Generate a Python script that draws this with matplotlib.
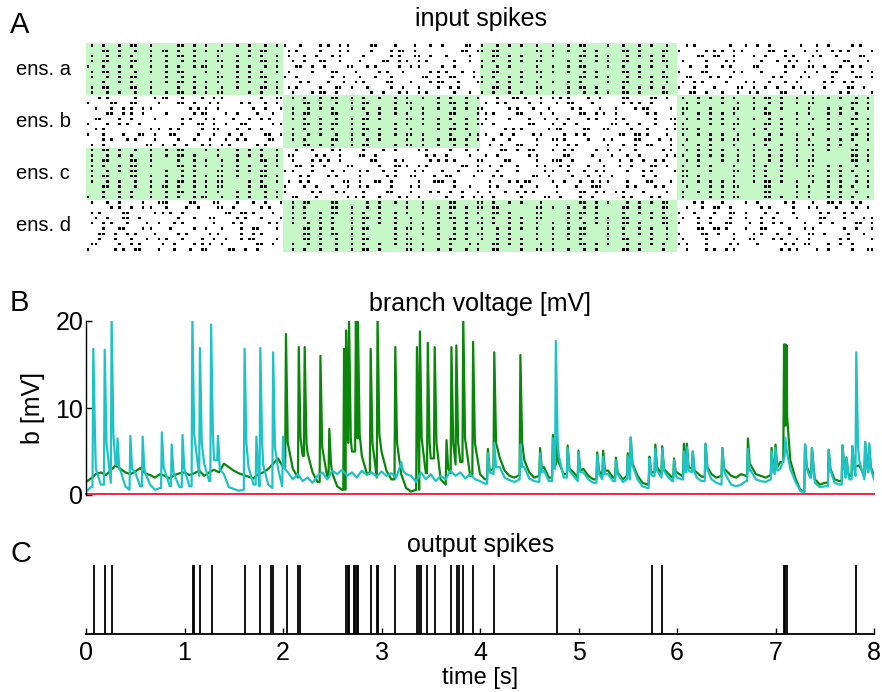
import numpy as np
import matplotlib
matplotlib.use("Agg")
import matplotlib.pyplot as plt
from matplotlib.patches import Rectangle
from matplotlib.collections import PolyCollection

plt.rcParams['font.family'] = ['Liberation Sans', 'DejaVu Sans']

# ---------------- panel A: input spikes ----------------
# one string per neuron, four 2-s blocks split by '|', each block = 50 bins of 40 ms, 'x' = spike
ens_names = ['ens. a', 'ens. b', 'ens. c', 'ens. d']
ens_active = ['1010', '0101', '1001', '0110']   # green blocks (pattern presented)

raster_a = [
    ".x..x...x. .xx...x... ...xx..x.. x...x...x. .x...x..x. | x...x....x .x..x.x... ..xx....x. ...x...x.. x.....xx.. | x...x..x.. x...x...x. ..x..xx... ..x...x... x..x...x.. | ..x.x..... ...x...x.. x..x...... .x...x..x. ....x.x...",
    "....xx..x. ..x...x..x x..x...x.. x..xx..... .x..xx.... | .x.x.....x ....x.x... ..x....x.x x..x...... .....xx..x | x..xx..... ....xx..x. ..x...x..x ......xx.. x.....xx.. | x......x.x .x..x.x... ...xx..x.. ..x..x...x .x.x.....x",
    ".x...x..x. .x....x... x..xx..x.. ...x....x. .x..x...x. | .x...x..x. ..x.x..... x......x.x ...xx..x.. .x.....x.. | ...xx..x.. x....x..x. .....xx..x ..x....x.. x..x..x... | .....xx..x x...x....x ..x....x.x ....x.x... x.....xx..",
    ".x..xx.... .xx...x... x...x..x.. x..xx...x. ....xx..x. | ..x..x...x x...x....x .....xx..x .x..x.x... ...x...x.. | x..x...x.. x...xx.... ..x..x...x ..x...xx.. ...x..xx.. | .x.....x.. ..x.x..... .x...x..x. x..x...... ..xx....x.",
    "x...x...x. .x....x... x..x...x.x x...x...x. .x...x..x. | ...xx..x.. x.....xx.. .x.x.....x ..x.x..... x..x...... | x...x..x.. ....x...x. ..x..xx... ..x...x... x..x...x.. | ...x...x.. .x.x.....x x......x.x ...xx..x.. .x..x.x...",
    ".x..xx..x. ..x...x... x..xx..... x..x....x. .x..x...x. | .x.....x.. ..xx....x. ....x.x... x......x.x .x...x..x. | ...xx..... x...xx..x. ..x...x..x ......xx.. x.....x... | x.....xx.. ....x.x... .x.....x.. ..x..x...x x...x....x",
    ".x...x..x. .xx....... x...x..x.. ...xx...x. .x..xx.... | x..x...... ..x..x...x ...x...x.. .....xx..x ..xx....x. | x..x...x.. x....x.... .....xx..x ..x....x.. x..x..xx.. | ..xx....x. x..x...... ....x.x... .x.x.....x .....xx..x",
    "....x...x. .x....x... x..xx..x.. x..x....x. .x...x..x. | ....x.x... .x...x..x. x.....xx.. ..x....x.x x...x....x | x...x..x.. x...x...x. ..x..x.... ..x...xx.. ...x...x.. | .x..x.x... ..x....x.x ...x...x.. x......x.x ..x.x.....",
    ".x..xx.... .xx...x... ...x...x.. x...x...x. ....xx..x. | .x.x.....x ...xx..x.. .x.....x.. x...x....x ..x.x..... | ...xx..x.. ....xx.... ..x..xx..x ......x... x..x..x... | x...x....x .....xx..x ..x..x...x .x.....x.. ...xx..x..",
    ".x...x..x. ..x...x... x..xx..x.. x..xx..... .x..x...x. | ..x....x.x x..x...... ..x..x...x .x..x.x... ...x...x.. | x..x...x.. x...x...x. ..x...x..x ..x...xx.. x.....xx.. | ...xx..x.. .x...x..x. x.....xx.. ..x.x..... .x.x.....x",
]
raster_b = [
    "...x.x.... ..x....x.x x...x....x ..x.x..... ....x...xx | ..x..x...x ..xx...x.. x...x...x. .x...x...x ..x...x..x | ....x...xx .x...x..x. x.x....x.. x.....xx.. ...xx..x.. | .x...x..x. .x..x....x ..xx..x... x...x...x. .x...x..x.",
    "x.....xx.. .xx.....x. ...xx..x.. .x.x.....x .x...x..x. | .....xx..x ...x...x.. xx......x. .xx......x ..xx..x... | .x..x.x... ..x..x...x ..xx....x. ......x.x. x..x...... | ..x..x.... .x...x...x ...x..x... x..xx..... ....xx..x.",
    "..x...x..x .x..x.x... ......x.x. x..x...... ..x..x...x | ..x...x..x ..x....x.. x...x...x. ..x..x...x ...x..x..x | x......x.x ...x...x.. ...x.x.... x...x....x .xx.....x. | .xx.....x. ....xx...x ..x...x... ...x....x. .x..x...x.",
    ".....xx..x .x..x..... x......x.x x....x..x. ...x...x.. | ..x..xx... ..xx...... .x..x...x. .x...x.... ..xx.....x | .x.x.....x x....x..x. .....xx..x .x..x..... ..x.x..... | .x...x..x. .x..x..... ..xx...... x..x....x. .x...x....",
    "..xx....x. .x.....x.. ....x.x... x.x....x.. .x..x.x... | ..x..x...x ...x...x.. xx..x..... .xx..x...x ..x...x..x | .x.....x.. ..x...x..x ..x....x.x ....x.x... ....x...xx | ..x..x..x. .x...x...x ...x..x... x...x...x. ....xx..x.",
    "x....x..x. x..x...... ....x...xx ..x..x...x x......x.x | .....xx..x ..xx...x.. x.......x. .x...x...x ...x..x..x | x..x...... ..xx....x. .x..x..... ...xx..x.. x...x....x | .x......x. .x..xx.... ..xx..x... x..x....x. .x..x...x.",
    "..x.x..... ......x.x. .x.x.....x ..xx....x. .x..x..... | ..x..x...x ..x....x.. xx..x...x. ..x......x ..xx..x... | ......x.x. x......x.x x.....xx.. .xx.....x. ..x....x.x | .xx..x.... ....x....x ..x...x... ...xx...x. .x...x..x.",
    "x...x....x ...xx..x.. .xx.....x. ..x...x..x .....xx..x | ..x...x..x ...x...x.. x...x...x. .xx..x.... ..x....x.x | .x...x..x. ...x.x.... .x..x.x... .....xx..x x.x....x.. | .x...x..x. .x...x...x ...x..x... x...x..... ....xx..x.",
    "....x.x... x.x....x.. ...x...x.. .x...x..x. x.....xx.. | ..x..x.... ..xx...x.. .x..x..... .x...x...x ..xx..x..x | ...x...x.. ....x...xx .x.....x.. .x.x.....x x....x..x. | ..x.....x. .x..xx.... ..xx...... x..x....x. .x..x...x.",
    ".x..x..... .....xx..x ..x..x...x .x..x.x... ...x.x.... | .....xx..x ..x....x.. xx......x. .xx..x...x ...x..x... | ..x..x...x x...x....x ..x.x..... ..x...x..x ..xx....x. | .x...x..x. ....x....x ..x...x... x..xx...x. .x...x....",
]
raster_c = [
    ".x..xx..x. ..x...x... x..xx..... x..x....x. .x..x...x. | ...x...x.. ..x.x..... x....x..x. ....x.x... ..x...x..x | .....xx..x ..xx....x. .x.x.....x ..x..x...x ......x.x. | ..x..x..x. .x...x...x ...x..x... x...x...x. ....xx..x.",
    ".x...x..x. .x....x... x..xx..x.. ...x....x. .x..x...x. | .xx.....x. x...x....x x..x...... ......x.x. .x.....x.. | .x..x..... ..x.x..... .xx.....x. ...x...x.. x......x.x | .x...x..x. .x...x...x ...x..x... x...x..... ....xx..x.",
    ".x..xx.... .xx...x... ...x...x.. x...x...x. ....xx..x. | ..x....x.x .x..x..... ..xx....x. x......x.x .x.x.....x | x.....xx.. ....x...xx x..x...... x....x..x. .x..x.x... | ..x..x.... .x...x...x ...x..x... x..xx..... ....xx..x.",
    ".x..x...x. .xx...x... ...xx..x.. x...x...x. .x...x..x. | ...xx..x.. x.....xx.. ....x...xx .x..x.x... .....xx..x | ..x..x...x ....x.x... x.x....x.. .x...x..x. ...xx..x.. | .x...x..x. ....x....x ..x...x... x..xx...x. .x...x....",
    ".x...x..x. .xx....... x...x..x.. ...xx...x. .x..xx.... | x.x....x.. ..x..x...x .x...x..x. ...x.x.... x...x....x | x...x....x ......x.x. ..x...x..x .x.....x.. .x.x.....x | .xx.....x. ....xx...x ..x...x... ...x....x. .x..x...x.",
    ".x..xx.... .xx...x... x...x..x.. x..xx...x. ....xx..x. | ....x.x... .x.x.....x ......x.x. ..xx....x. .xx.....x. | ...x.x.... ...xx..x.. ...x...x.. x..x...... .x..x..... | .xx..x.... ....x....x ..x...x... ...xx...x. .x...x..x.",
    ".x...x..x. ..x...x... x..xx..x.. x..xx..... .x..x...x. | .x..x.x... .....xx..x ...xx..x.. ....x...xx x..x...... | ..x....x.x .xx.....x. .x...x..x. x.x....x.. ..xx....x. | .x...x..x. .x..x....x ..xx..x... x...x...x. .x...x..x.",
    "....xx..x. ..x...x..x x..x...x.. x..xx..... .x..xx.... | x....x..x. ..x...x..x .x.....x.. ..x.x..... ...x...x.. | ..x.x..... x...x....x ....x...xx x......x.x ....x.x... | ..x.....x. .x..xx.... ..xx...... x..x....x. .x..x...x.",
    "....x...x. .x....x... x..xx..x.. x..x....x. .x...x..x. | x......x.x ...x.x.... x.....xx.. ..x....x.x ..x..x...x | ..x...x..x .x.x.....x .....xx..x .x..x.x... .x.....x.. | .x...x..x. .x..x..... ..xx...... x..x....x. .x...x....",
    "x...x...x. .x....x... x..x...x.x x...x...x. .x...x..x. | ..xx....x. ......x.x. x...x....x .x..x..... .x...x..x. | x..x...... x.....xx.. x....x..x. ......x.x. ...x.x.... | .x......x. .x..xx.... ..xx..x... x..x....x. .x..x...x.",
]
raster_d = [
    ".x...x..x. ....x...xx x.....xx.. ..xx....x. ..x..x...x | ..x..xx... ..xx...... .x..x...x. .x...x.... ..xx.....x | x..x...x.. x....x.... .....xx..x ..x....x.. x..x..xx.. | ....x.x... .x.....x.. x......x.x ....x...xx .x..x.x...",
    "......x.x. .x..x.x... x....x..x. ...xx..x.. ....x.x... | ..x..x.... ..xx...x.. .x..x..... .x...x...x ..xx..x..x | x..xx..... ....xx..x. ..x...x..x ......xx.. x.....xx.. | ..x...x..x x..x...... .x.x.....x ...x.x.... x....x..x.",
    ".x.x.....x x......x.x .x..x..... .....xx..x x.x....x.. | ..x..x...x ..xx...x.. x...x...x. .x...x...x ..x...x..x | ...xx..x.. ....xx.... ..x..xx..x ......x... x..x..x... | x...x....x ...xx..x.. ..x..x...x ......x.x. ..x.x.....",
    "..x..x...x x..x...... ...x...x.. .xx.....x. x...x....x | ..x..x...x ..x....x.. xx..x...x. ..x......x ..xx..x... | x..x...x.. x...xx.... ..x..x...x ..x...xx.. ...x..xx.. | .x...x..x. ...x...x.. .x..x..... x.....xx.. ..x....x.x",
    ".x..x.x... x....x..x. ..x.x..... ..x....x.x ......x.x. | ..x...x..x ..x....x.. x...x...x. ..x..x...x ...x..x..x | x..x...x.. x...x...x. ..x...x..x ..x...xx.. x.....xx.. | x....x..x. ..xx....x. .x..x.x... ..x...x..x .....xx..x",
    "....x...xx ....x.x... .x.....x.. x...x....x ..xx....x. | .....xx..x ..x....x.. xx......x. .xx..x...x ...x..x... | x...x..x.. x...x...x. ..x..xx... ..x...x... x..x...x.. | .....xx..x x.x....x.. .xx.....x. ..x.x..... ..x..x...x",
    "...xx..x.. x.x....x.. ...x.x.... .x.x.....x ..x.x..... | .....xx..x ..xx...x.. x.......x. .x...x...x ...x..x..x | x...x..x.. ....x...x. ..x..xx... ..x...x... x..x...x.. | x.....xx.. x...x....x .x...x..x. ...xx..x.. ...x...x..",
    "...x...x.. .x...x..x. x...x....x ..x..x...x .xx.....x. | .....xx..x ...x...x.. xx......x. .xx......x ..xx..x... | x...x..x.. x...x...x. ..x..x.... ..x...xx.. ...x...x.. | .x.....x.. ....x...xx ....x.x... x..x...... .x.x.....x",
    ".xx.....x. .x.x.....x ..x....x.x .x..x..... ...xx..x.. | ..x...x..x ...x...x.. x...x...x. .xx..x.... ..x....x.x | ...xx..x.. x....x..x. .....xx..x ..x....x.. x..x..x... | x.x....x.. ...x.x.... x......x.x ..xx....x. .x..x.....",
    "x......x.x ..xx....x. ..x...x..x x.....xx.. x..x...... | ..x..x...x ...x...x.. xx..x..... .xx..x...x ..x...x..x | ...xx..... x...xx..x. ..x...x..x ......xx.. x.....x... | ..x....x.x ..x.x..... ......x.x. x....x..x. ....x...xx",
]
rasters = [raster_a, raster_b, raster_c, raster_d]

# ---------------- panel B: branch voltage ----------------
# baseline samples every 50 ms (0 .. 8 s), peaks listed separately
base_step = 0.05
green_base = [
    1.5, 1.9, 2.4, 2.6, 2.3, 2.8, 3.4, 3.0, 2.6, 2.4, 2.7, 3.1, 2.5, 2.3, 2.0, 2.4, 2.2, 1.9, 2.3, 2.5,
    2.6, 2.3, 2.5, 2.8, 2.2, 2.6, 2.9, 2.6, 3.6, 3.2, 2.8, 2.5, 2.3, 2.1, 1.9, 2.4, 2.6, 3.0, 3.6, 4.2,
    3.2, 5.5, 3.0, 2.0, 4.5, 4.8, 2.6, 1.5, 4.5, 2.0, 2.5, 1.0, 0.6, 6.0, 5.0, 7.0, 4.5, 2.5, 4.5, 2.0,
    5.0, 2.8, 1.8, 4.6, 2.4, 0.8, 0.4, 0.6, 5.0, 2.5, 4.2, 4.0, 1.8, 1.2, 2.5, 3.5, 3.8, 4.5, 2.2, 4.3,
    2.4, 1.8, 3.0, 2.2, 4.3, 2.8, 2.2, 2.0, 2.3, 4.0, 2.6, 2.0, 2.2, 3.2, 2.0, 3.5, 3.6, 2.4, 2.0, 2.6,
    2.0, 3.0, 2.2, 1.8, 2.6, 2.2, 2.8, 2.0, 2.4, 1.8, 2.2, 3.2, 2.2, 1.4, 1.2, 2.6, 3.0, 2.4, 2.6, 2.0,
    2.6, 2.2, 3.2, 3.0, 2.6, 2.1, 3.0, 2.4, 2.0, 2.2, 2.8, 2.2, 2.0, 2.4, 2.2, 3.4, 2.4, 2.2, 2.0, 2.3,
    2.8, 3.8, 8.0, 4.0, 2.0, 0.6, 0.4, 2.4, 1.8, 1.2, 1.4, 2.6, 1.8, 1.6, 2.4, 2.2, 2.8, 3.4, 2.2, 3.0, 2.2,
]
green_pk_t = [2.03, 2.16, 2.22, 2.38, 2.47, 2.62, 2.64, 2.67, 2.74, 2.76,
              2.89, 2.96, 3.14, 3.36, 3.39, 3.47, 3.54, 3.66, 3.71, 3.76,
              3.83, 3.93, 4.08, 4.145, 4.41, 4.61, 4.74, 4.78, 4.89, 5.00,
              5.19, 5.25, 5.38, 5.50, 5.53, 5.72, 5.78, 5.85, 5.97, 6.07,
              6.10, 6.16, 6.29, 6.46, 6.72, 6.96, 7.00, 7.087, 7.10, 7.113,
              7.30, 7.37, 7.54, 7.68, 7.72, 7.78, 7.91, 7.95]
green_pk_v = [18.5, 17.0, 17.0, 16.0, 7.6, 16.8, 18.9, 20.5, 20.5, 20.5,
              16.8, 20.5, 17.0, 17.0, 18.8, 17.5, 17.0, 6.3, 17.0, 17.2,
              20.5, 17.6, 5.3, 16.4, 16.1, 5.4, 6.9, 7.0, 5.7, 5.1,
              4.9, 5.1, 4.3, 4.8, 6.6, 4.4, 5.8, 5.6, 4.2, 5.9,
              5.9, 5.0, 5.9, 5.4, 6.5, 5.4, 5.8, 17.3, 17.3, 17.2,
              5.8, 5.4, 5.2, 5.7, 4.3, 5.6, 6.1, 5.9]
green_pk_drop = [6.0, 6.5, 6.0, 5.5, 3.5, 7.0, 7.0, 6.5, 6.5, 7.0,
                 6.0, 7.0, 6.0, 5.0, 6.5, 6.0, 6.0, 3.0, 6.0, 6.0,
                 6.5, 6.0, 2.8, 6.0, 6.0, 3.0, 3.6, 3.8, 3.0, 2.8,
                 2.8, 2.8, 2.6, 2.6, 3.6, 2.6, 3.2, 3.0, 2.6, 3.2,
                 3.2, 2.8, 3.2, 3.0, 3.6, 3.0, 3.2, 9.0, 9.0, 7.0,
                 3.2, 3.0, 3.0, 3.2, 2.6, 3.2, 3.4, 3.2]

cyan_base = [
    0.4, 0.9, 3.0, 1.2, 3.0, 1.4, 3.5, 2.8, 1.0, 0.6, 2.6, 1.0, 2.6, 1.2, 0.6, 0.8, 2.8, 1.0, 2.2, 0.9,
    2.8, 1.0, 4.0, 2.2, 3.6, 1.6, 4.0, 2.0, 2.4, 0.9, 0.7, 0.5, 0.6, 3.2, 1.2, 1.0, 3.4, 1.2, 0.8, 3.0,
    1.0, 2.6, 1.8, 2.4, 1.6, 2.0, 1.4, 2.2, 2.6, 1.8, 2.8, 2.4, 2.9, 2.2, 2.6, 2.0, 2.8, 2.3, 2.6, 2.1,
    2.7, 2.2, 2.5, 2.0, 3.4, 2.4, 2.2, 1.5, 2.6, 1.8, 2.4, 1.6, 2.2, 1.8, 2.8, 2.2, 2.6, 1.9, 2.4, 1.8,
    1.6, 1.3, 2.4, 2.0, 3.2, 2.0, 1.7, 1.5, 1.8, 3.2, 1.9, 1.6, 1.5, 2.8, 1.6, 3.0, 4.5, 2.0, 1.6, 2.2,
    1.6, 2.6, 1.8, 1.4, 2.2, 1.8, 2.4, 1.6, 2.0, 1.5, 1.8, 3.0, 1.8, 1.0, 0.8, 2.2, 2.4, 2.0, 2.2, 1.6,
    2.0, 1.8, 2.6, 2.6, 2.0, 1.6, 2.6, 1.8, 1.4, 1.2, 2.2, 1.2, 1.0, 1.2, 1.6, 2.8, 1.8, 1.6, 1.5, 1.8,
    2.4, 3.0, 4.5, 3.0, 1.6, 0.5, 0.3, 2.0, 1.4, 0.9, 1.0, 2.2, 1.4, 1.2, 2.0, 1.8, 2.2, 4.0, 1.8, 2.6, 1.8,
]
cyan_pk_t = [0.074, 0.19, 0.26, 0.32, 0.45, 0.575, 0.77, 0.87, 0.98,
             1.08, 1.157, 1.27, 1.34, 1.61, 1.73, 1.77, 1.90, 2.00,
             3.20, 4.08, 4.145, 4.41, 4.61, 4.74, 4.77, 4.89,
             5.00, 5.19, 5.25, 5.38, 5.50, 5.53, 5.72, 5.78, 5.85, 5.97,
             6.07, 6.10, 6.16, 6.29, 6.46, 6.72, 6.96,
             7.00, 7.10, 7.30, 7.37, 7.54, 7.68, 7.72, 7.78, 7.82, 7.91, 7.95]
cyan_pk_v = [16.8, 16.7, 20.5, 6.5, 6.8, 6.7, 7.2, 5.8, 6.9,
             20.5, 16.9, 19.6, 6.8, 16.8, 6.7, 16.9, 16.4, 6.7,
             3.8, 4.8, 6.0, 5.8, 4.8, 6.5, 17.7, 5.4,
             4.9, 4.6, 4.4, 4.0, 4.5, 6.6, 4.2, 5.3, 5.3, 4.0,
             5.0, 5.5, 5.0, 5.9, 5.4, 5.3, 5.0,
             5.4, 6.6, 5.8, 5.4, 5.2, 5.7, 4.3, 5.6, 16.4, 6.1, 5.9]
cyan_pk_drop = [6.5, 6.0, 7.0, 3.0, 3.0, 3.0, 3.2, 2.6, 3.0,
                7.0, 6.0, 7.0, 3.0, 6.0, 3.0, 6.0, 5.5, 3.0,
                2.8, 2.6, 3.2, 3.2, 2.6, 3.2, 6.0, 2.8,
                2.6, 2.4, 2.4, 2.4, 2.4, 3.4, 2.4, 2.8, 2.8, 2.2,
                2.6, 2.8, 2.6, 3.0, 2.8, 2.8, 2.6,
                2.8, 4.8, 3.0, 2.8, 2.8, 3.0, 2.4, 3.0, 5.5, 3.2, 3.0]

red_t = [0.0, 8.0]
red_v = [0.08, 0.08]

# ---------------- panel C: output spikes ----------------
out_spikes = [0.085, 0.193, 0.26, 1.09, 1.10, 1.157, 1.28, 1.61, 1.77, 1.875, 1.895,
              2.04, 2.155, 2.17, 2.64, 2.655, 2.673, 2.72, 2.734, 2.748, 2.76,
              2.893, 2.95, 2.968, 3.137, 3.357, 3.377, 3.40, 3.459, 3.543,
              3.706, 3.763, 3.79, 3.83, 3.926, 4.145, 4.778, 5.75, 5.85,
              7.087, 7.10, 7.113, 7.817]


def trace(base, pk_t, pk_v, pk_drop):
    pts = []
    for k, b in enumerate(base):
        t = k * base_step
        if any(p - 0.012 < t < p + 0.025 for p in pk_t):
            continue
        pts.append((t, b))
    for p, v, d in zip(pk_t, pk_v, pk_drop):
        pts.append((p - 0.008, base[int(p / base_step + 1e-9)]))
        pts.append((p, v))
        pts.append((p + 0.018, d))
    pts.sort()
    return np.array(pts).T


W, H = 882, 692
fig = plt.figure(figsize=(W / 100, H / 100), dpi=100)


def box(x0, y0, x1, y1):
    return [x0 / W, 1 - y1 / H, (x1 - x0) / W, (y1 - y0) / H]


def ftext(x, y, s, **kw):
    fig.text(x / W, 1 - y / H, s, **kw)


# panel A
axA = fig.add_axes(box(86, 43, 874, 252))
for e, flags in enumerate(ens_active):
    for k, f in enumerate(flags):
        if f == '1':
            axA.add_patch(Rectangle((2 * k, 10 * e - 0.5), 2, 10, facecolor='#c6f7c6',
                                    edgecolor='none', zorder=0))
dots = []
dw, dh = 0.0135, 0.23      # half width [s] / half height [rows] of one spike mark
for e, rows in enumerate(rasters):
    for r, row in enumerate(rows):
        for k, blk in enumerate(row.split('|')):
            blk = blk.replace(' ', '')
            n = len(blk)
            for i, ch in enumerate(blk):
                if ch == 'x':
                    x = 2 * k + (i + 0.5) * 2 / n
                    y = 10 * e + r
                    dots.append([(x - dw, y - dh), (x + dw, y - dh), (x + dw, y + dh), (x - dw, y + dh)])
axA.add_collection(PolyCollection(dots, facecolors='black', edgecolors='none', zorder=2))
axA.set_xlim(0, 8)
axA.set_ylim(39.5, -0.5)
axA.axis('off')
for e, name in enumerate(ens_names):
    ftext(16, 69.5 + 52 * e, name, ha='left', va='center', fontsize=14.5)

# panel B
axB = fig.add_axes(box(86, 321, 874, 495))
gt, gv = trace(green_base, green_pk_t, green_pk_v, green_pk_drop)
ct, cv = trace(cyan_base, cyan_pk_t, cyan_pk_v, cyan_pk_drop)
axB.plot(gt, gv, color='#0a870a', lw=1.6)
axB.plot(ct, cv, color='#1fc3c6', lw=1.6)
axB.plot(red_t, red_v, color='#ee2a48', lw=1.4, clip_on=False)
axB.set_xlim(0, 8)
axB.set_ylim(0, 20)
axB.set_yticks([0, 10, 20])
axB.set_xticks([])
for s in ['top', 'right', 'bottom']:
    axB.spines[s].set_visible(False)
axB.spines['left'].set_linewidth(1.0)
axB.tick_params(axis='y', direction='in', length=4, width=1.0, pad=2, labelsize=18)

# panel C
axC = fig.add_axes(box(86, 560, 874, 634))
axC.vlines(out_spikes, 0, 1, color='black', lw=1.3)
axC.set_xlim(0, 8)
axC.set_ylim(0, 1.07)
axC.set_yticks([])
axC.set_xticks(range(9))
for s in ['top', 'right', 'left']:
    axC.spines[s].set_visible(False)
axC.spines['bottom'].set_linewidth(1.3)
axC.tick_params(axis='x', direction='in', length=4, width=1.0, pad=5, labelsize=18)

# titles and labels
ftext(10, 25, 'A', ha='left', va='center', fontsize=21)
ftext(10, 303, 'B', ha='left', va='center', fontsize=21)
ftext(10, 554, 'C', ha='left', va='center', fontsize=21)
ftext(481, 19, 'input spikes', ha='center', va='center', fontsize=18)
ftext(480, 304, 'branch voltage [mV]', ha='center', va='center', fontsize=18)
ftext(481, 545, 'output spikes', ha='center', va='center', fontsize=18)
ftext(480, 678, 'time [s]', ha='center', va='center', fontsize=17)
ftext(33, 408, 'b [mV]', ha='center', va='center', rotation=90, fontsize=18)

fig.savefig('out.png', dpi=100)
